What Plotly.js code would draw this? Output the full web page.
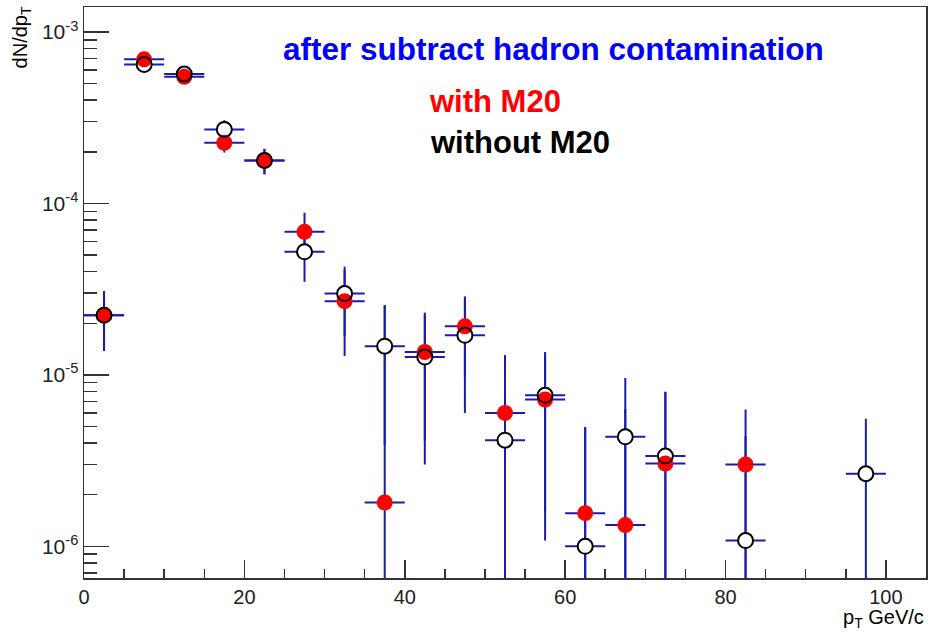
<!DOCTYPE html>
<html><head><meta charset="utf-8">
<script src="https://cdn.plot.ly/plotly-3.0.1.min.js"></script>
<style>html,body{margin:0;padding:0;background:#fff;overflow:hidden}</style>
</head><body><div id="chart" style="width:928px;height:634px"></div>
<script>
// pT bin centres (GeV/c)
const ptWith = [2.5, 7.5, 12.5, 17.5, 22.5, 27.5, 32.5, 37.5, 42.5, 47.5, 52.5, 57.5, 62.5, 67.5, 72.5, 82.5];
const ptWithout = [2.5, 7.5, 12.5, 17.5, 22.5, 27.5, 32.5, 37.5, 42.5, 47.5, 52.5, 57.5, 62.5, 67.5, 72.5, 82.5, 97.5];
// dN/dpT with M20 cut
const withM20 = [2.23e-5, 6.93e-4, 5.48e-4, 2.26e-4, 1.78e-4, 6.83e-5, 2.69e-5, 1.80e-6, 1.36e-5, 1.92e-5, 6.0e-6, 7.18e-6, 1.56e-6, 1.33e-6, 3.04e-6, 3.0e-6];
const withM20Err = [0.85e-5, 2.0e-5, 2.0e-5, 2.8e-5, 3.0e-5, 2.0e-5, 1.4e-5, 2.37e-5, 0.95e-5, 0.95e-5, 7.0e-6, 6.1e-6, 3.4e-6, 5.0e-6, 4.9e-6, 3.28e-6];
// dN/dpT without M20 cut
const withoutM20 = [2.23e-5, 6.47e-4, 5.69e-4, 2.70e-4, 1.78e-4, 5.22e-5, 2.98e-5, 1.47e-5, 1.27e-5, 1.70e-5, 4.16e-6, 7.6e-6, 1.0e-6, 4.35e-6, 3.36e-6, 1.08e-6, 2.65e-6];
const withoutM20Err = [0.85e-5, 2.0e-5, 2.0e-5, 3.6e-5, 3.0e-5, 1.73e-5, 1.3e-5, 1.08e-5, 0.97e-5, 1.1e-5, 8.8e-6, 6.0e-6, 3.9e-6, 5.25e-6, 4.6e-6, 3.3e-6, 2.9e-6];
const binHalfWidth = 2.5;
// axis ticks
const yTickVals = [1e-6, 1e-5, 1e-4, 1e-3];
const yTickText = ['10<sup>-6</sup>', '10<sup>-5</sup>', '10<sup>-4</sup>', '10<sup>-3</sup>'];

const FONT = 'Liberation Sans, Arial, Helvetica, sans-serif';
const BAR = '#1c1cab';

function errTrace(x, y, e) {
  return {
    x: x, y: y, type: 'scatter', mode: 'markers', hoverinfo: 'skip',
    marker: {size: 1, color: 'rgba(0,0,0,0)'},
    error_x: {type: 'constant', value: binHalfWidth, width: 0, thickness: 2, color: BAR},
    error_y: {type: 'data', array: e, symmetric: true, width: 0, thickness: 2, color: BAR}
  };
}

const traces = [
  errTrace(ptWith, withM20, withM20Err),
  errTrace(ptWithout, withoutM20, withoutM20Err),
  {x: ptWithout, y: withoutM20, type: 'scatter', mode: 'markers', hoverinfo: 'skip',
   marker: {symbol: 'circle', size: 15, color: '#ffffff', line: {color: '#000', width: 0}}},
  {x: ptWith, y: withM20, type: 'scatter', mode: 'markers', name: 'with M20',
   marker: {symbol: 'circle', size: 16, color: '#ff0000', line: {width: 0}}},
  {x: ptWithout, y: withoutM20, type: 'scatter', mode: 'markers', name: 'without M20',
   marker: {symbol: 'circle-open', size: 15, color: '#000000', line: {color: '#000', width: 2}}}
];

const layout = {
  width: 928, height: 634,
  margin: {l: 84, r: 2, t: 7, b: 56},
  paper_bgcolor: '#fff', plot_bgcolor: '#fff',
  showlegend: false,
  font: {family: FONT, color: '#000'},
  xaxis: {
    range: [0, 105], tickmode: 'linear', tick0: 0, dtick: 20,
    ticks: 'inside', ticklen: 18, tickwidth: 1.5, tickcolor: '#333',
    showline: true, linecolor: '#333', linewidth: 1.5, mirror: true,
    showgrid: false, zeroline: false,
    tickfont: {size: 20, family: FONT, color: '#222'},
    minor: {dtick: 5, ticks: 'inside', ticklen: 9, tickwidth: 1.5, tickcolor: '#333', showgrid: false}
  },
  yaxis: {
    type: 'log', range: [-6.185, -2.854],
    tickmode: 'array', tickvals: yTickVals, ticktext: yTickText,
    ticks: 'inside', ticklen: 25, tickwidth: 1.5, tickcolor: '#333',
    showline: true, linecolor: '#333', linewidth: 1.5, mirror: true,
    showgrid: false, zeroline: false,
    tickfont: {size: 21, family: FONT, color: '#222'},
    minor: {dtick: 'D1', ticks: 'inside', ticklen: 13, tickwidth: 1.5, tickcolor: '#333', showgrid: false}
  },
  annotations: [
    {text: '<b>after subtract hadron contamination</b>', xref: 'paper', yref: 'paper',
     x: 0.558, y: 0.926, xanchor: 'center', yanchor: 'middle', showarrow: false,
     font: {family: FONT, size: 31.5, color: '#0000ff'}},
    {text: '<b>with M20</b>', xref: 'paper', yref: 'paper',
     x: 0.4075, y: 0.835, xanchor: 'left', yanchor: 'middle', showarrow: false,
     font: {family: FONT, size: 31, color: '#ff0000'}},
    {text: '<b>without M20</b>', xref: 'paper', yref: 'paper',
     x: 0.409, y: 0.762, xanchor: 'left', yanchor: 'middle', showarrow: false,
     font: {family: FONT, size: 31, color: '#000000'}},
    {text: 'dN/dp<sub>T</sub>', xref: 'paper', yref: 'paper', textangle: -90,
     x: -0.074, y: 1.004, xanchor: 'center', yanchor: 'top', showarrow: false,
     font: {family: FONT, size: 20, color: '#000'}},
    {text: 'p<sub>T</sub> GeV/c', xref: 'paper', yref: 'paper',
     x: 1.0, y: -0.071, xanchor: 'right', yanchor: 'middle', showarrow: false,
     font: {family: FONT, size: 20, color: '#000'}}
  ]
};

Plotly.newPlot('chart', traces, layout, {staticPlot: true, displayModeBar: false});
</script>
</body></html>
